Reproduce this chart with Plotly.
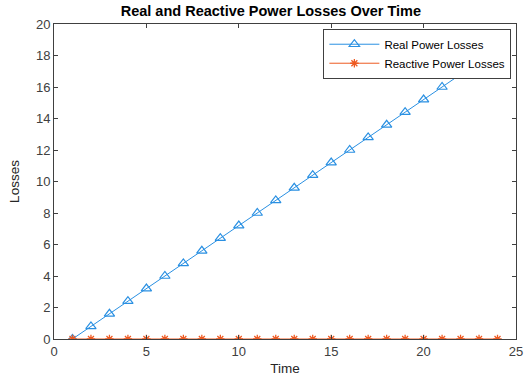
import plotly.graph_objects as go

time = [1, 2, 3, 4, 5, 6, 7, 8, 9, 10, 11, 12, 13, 14, 15, 16, 17, 18, 19, 20, 21, 22, 23, 24]
real_losses = [0, 0.8, 1.6, 2.4, 3.2, 4.0, 4.8, 5.6, 6.4, 7.2, 8.0, 8.8, 9.6, 10.4, 11.2, 12.0,
               12.8, 13.6, 14.4, 15.2, 16.0, 16.8, 17.6, 18.4]
reactive_losses = [0] * 24
x_ticks = [0, 5, 10, 15, 20, 25]
y_ticks = [0, 2, 4, 6, 8, 10, 12, 14, 16, 18, 20]

blue = "#2A90E2"
orange = "#EE5A22"

fig = go.Figure()
fig.add_trace(go.Scatter(x=time, y=real_losses, mode="lines+markers", name="Real Power Losses",
                         line=dict(color=blue, width=1),
                         marker=dict(symbol="triangle-up-open", size=9, color=blue, line=dict(width=1.2))))
fig.add_trace(go.Scatter(x=time, y=reactive_losses, mode="lines+markers", name="Reactive Power Losses",
                         line=dict(color=orange, width=1),
                         marker=dict(symbol="asterisk-open", size=7, color=orange, line=dict(width=1.3))))

axis_common = dict(showgrid=False, zeroline=False, showline=True, linecolor="#404040", linewidth=1,
                   mirror="ticks", ticks="inside", ticklen=4, tickcolor="#404040", automargin=False,
                   tickfont=dict(family="Liberation Sans, Arial", size=13, color="#404040"))

fig.update_layout(
    width=526, height=378,
    margin=dict(l=54, r=10, t=24, b=39),
    paper_bgcolor="white", plot_bgcolor="white",
    title=dict(text="<b>Real and Reactive Power Losses Over Time</b>", x=0.515, xanchor="center",
               y=0.972, yanchor="middle",
               font=dict(family="Liberation Sans, Arial", size=14.5, color="black")),
    xaxis=dict(range=[0, 25], tickvals=x_ticks, title=dict(text="Time", standoff=5,
               font=dict(family="Liberation Sans, Arial", size=13.5, color="#262626")), **axis_common),
    yaxis=dict(range=[0, 20], tickvals=y_ticks, title=dict(text="Losses", standoff=13,
               font=dict(family="Liberation Sans, Arial", size=13.5, color="#262626")), **axis_common),
    legend=dict(x=0.99, y=0.985, xanchor="right", yanchor="top", bgcolor="white",
                bordercolor="#404040", borderwidth=1,
                font=dict(family="Liberation Sans, Arial", size=11.5, color="black"),
                tracegroupgap=0, itemwidth=50),
    showlegend=True,
)
fig.write_html("out.html", config={"displayModeBar": False},
               post_script="document.body.style.margin='0';")
